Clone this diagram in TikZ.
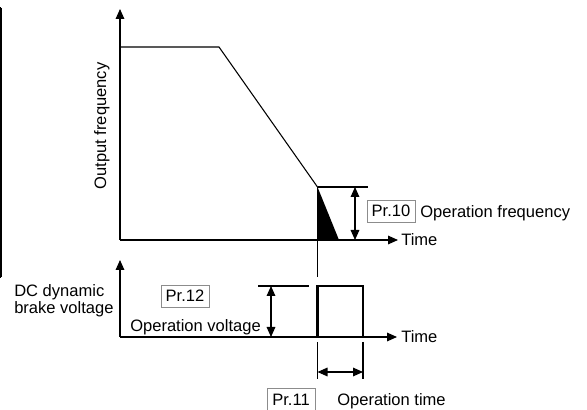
\documentclass[tikz,border=0pt]{standalone}
\usepackage{fontspec}
\setmainfont{Liberation Sans}
\usetikzlibrary{arrows.meta}
\begin{document}
\begin{tikzpicture}[x=0.75pt,y=-0.75pt,
  ax/.style={line width=0.8pt,-{Triangle[length=7.5pt,width=6.5pt]}},
  dimarrow/.style={line width=0.8pt,{Triangle[length=7.5pt,width=6.5pt]}-{Triangle[length=7.5pt,width=6.5pt]}},
  guide/.style={line width=0.8pt},
  pulse/.style={line width=1.9pt},
  border/.style={line width=1.5pt},
  lbl/.style={font=\fontsize{12.4}{15}\selectfont, inner sep=0pt},
  prbox/.style={lbl, draw=black!45, line width=0.6pt, minimum width=36pt, minimum height=16.5pt},
]
\useasboundingbox (0,0) rectangle (587,410);

% cropped table border on the left
\coordinate (b0) at (1.3,8);
\coordinate (b1) at (1.3,277);
\draw[border] (b0) -- (b1);
\foreach \yy in {8,63,143,227,277}{
  \coordinate (bt) at (-1,\yy);
  \coordinate (bb) at (1.3,\yy);
  \draw[line width=1pt] (bt) -- (bb);
}

% ---------- upper chart ----------
\coordinate (o1) at (120,240);
\coordinate (y1) at (120,9);
\coordinate (x1) at (398,240);
\draw[ax] (o1) -- (y1);
\draw[ax] (o1) -- (x1);
\node[lbl, anchor=west] (time1) at (401,240) {Time};
\node[lbl, rotate=90, anchor=base] (outf) at (106,126) {Output frequency};

\coordinate (f0) at (120,47);
\coordinate (f1) at (219,47);
\coordinate (f2) at (317.5,187);
\coordinate (fb) at (339,240);
\coordinate (f3) at (317.5,240);
\coordinate (vb) at (317.5,277);
\coordinate (ht) at (368,187);
\coordinate (da) at (355,187);
\coordinate (db) at (355,240);

\fill[black] (f2) -- (fb) -- (f3) -- cycle;
\draw[guide] (f0) -- (f1) -- (f2);
\draw[guide] (f2) -- (vb);
\draw[guide] (f2) -- (ht);
\draw[dimarrow] (da) -- (db);

\node[prbox] (pr10) at (391,211) {Pr.10};
\node[lbl, anchor=base west] (opf) at (420,217.3) {Operation frequency};

% ---------- lower chart ----------
\coordinate (o2) at (120,337);
\coordinate (y2) at (120,260);
\coordinate (x2) at (397,337);
\draw[ax] (o2) -- (y2);
\draw[ax] (o2) -- (x2);
\node[lbl, anchor=west] (time2) at (401,337) {Time};

\node[lbl, anchor=base west] (dc1) at (14,296.7) {DC dynamic};
\node[lbl, anchor=base west] (dc2) at (14,313.3) {brake voltage};

\coordinate (p0) at (317.5,337);
\coordinate (p1) at (317.5,286);
\coordinate (p2) at (363,286);
\coordinate (p3) at (363,337);
\draw[pulse] (p0) -- (p1) -- (p2) -- (p3);

\coordinate (vt0) at (258,286);
\coordinate (vt1) at (309,286);
\draw[guide] (vt0) -- (vt1);
\coordinate (va) at (271,286);
\coordinate (vb2) at (271,337);
\draw[dimarrow] (va) -- (vb2);

\node[prbox] (pr12) at (185,296) {Pr.12};
\node[lbl, anchor=base west] (opv) at (130,331.5) {Operation voltage};

\coordinate (tl0) at (317.5,342);
\coordinate (tl1) at (317.5,379);
\coordinate (tr0) at (363,342);
\coordinate (tr1) at (363,379);
\draw[guide] (tl0) -- (tl1);
\draw[guide] (tr0) -- (tr1);
\coordinate (ta) at (317.5,372);
\coordinate (tb) at (363,372);
\draw[dimarrow] (ta) -- (tb);

\node[prbox] (pr11) at (291,399.5) {Pr.11};
\node[lbl, anchor=base west] (opt) at (337,405.3) {Operation time};
\end{tikzpicture}
\end{document}
